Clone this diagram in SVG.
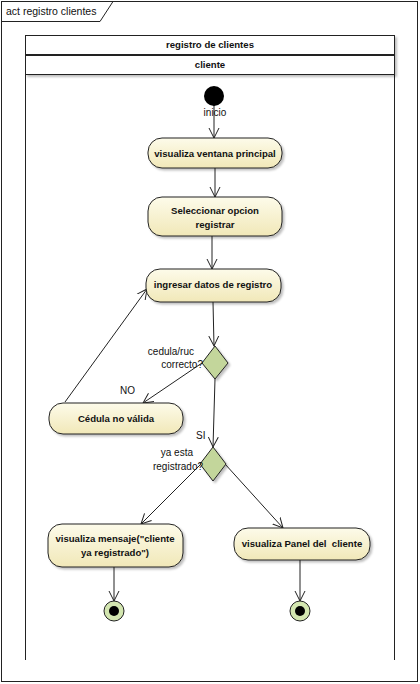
<svg xmlns="http://www.w3.org/2000/svg" width="420" height="684" viewBox="0 0 420 684">
<defs>
<linearGradient id="g" x1="0" y1="0" x2="0" y2="1"><stop offset="0" stop-color="#FDFBEA"/><stop offset="1" stop-color="#F1E8B8"/></linearGradient>
<marker id="a" markerWidth="12" markerHeight="12" refX="10" refY="6" orient="auto" markerUnits="userSpaceOnUse"><path d="M0,1 L10,6 L0,11" fill="none" stroke="#222" stroke-width="1"/></marker>
<filter id="s" x="-10%" y="-10%" width="130%" height="140%"><feDropShadow dx="2" dy="2" stdDeviation="1" flood-color="#000" flood-opacity="0.25"/></filter>
</defs>
<style>
text{font-family:"Liberation Sans",Arial,sans-serif;fill:#111}
.t{font-size:9.6px;font-weight:bold;text-anchor:middle}
.l{font-size:10px}
.n{fill:url(#g);stroke:#222;stroke-width:1;filter:url(#s)}
.d{fill:#C3D69B;stroke:#222;stroke-width:1;filter:url(#s)}
.e{fill:none;stroke:#222;stroke-width:1;marker-end:url(#a)}
</style>
<rect width="420" height="684" fill="#fff"/>
<rect x="1.5" y="1.5" width="416" height="680" fill="none" stroke="#222" stroke-width="1"/>
<path d="M1.5,21.5 H100 L113,1.5" fill="none" stroke="#222" stroke-width="1"/>
<text x="6" y="15" style="font-size:10.5px">act registro clientes</text>
<g id="lane">
<path d="M25.5,35 V660 M394.5,35 V660" stroke="#222" stroke-width="1"/>
<rect x="25.5" y="35.5" width="369" height="19" fill="#fff" stroke="#222" filter="url(#s)"/>
<rect x="25.5" y="55.5" width="369" height="19" fill="#fff" stroke="#222" filter="url(#s)"/>
<text class="t" x="210" y="48">registro de clientes</text>
<text class="t" x="210" y="68">cliente</text>
</g>
<g id="connectors">
<path class="e" d="M214,105 V138"/>
<path class="e" d="M215,168 V197"/>
<path class="e" d="M212,236 V269"/>
<path class="e" d="M213,302 L214,346"/>
<path class="e" d="M202,363 L143,403"/>
<path class="e" d="M65,402 L147,289"/>
<path class="e" d="M215,379 L213,447"/>
<path class="e" d="M201,464 L141,524"/>
<path class="e" d="M225,464 L283,528"/>
<path class="e" d="M114,567 V601"/>
<path class="e" d="M300,560 V601"/>
<text class="l" x="120" y="394">NO</text>
<text class="l" x="196" y="439">SI</text>
</g>
<g id="inicio">
<circle cx="214" cy="96" r="10" fill="#000"/>
<text class="l" x="215" y="116" text-anchor="middle">inicio</text>
</g>
<g id="n1"><rect class="n" x="148" y="138" width="134" height="30" rx="14"/><text class="t" x="215" y="157">visualiza ventana principal</text></g>
<g id="n2"><rect class="n" x="148" y="197" width="134" height="39" rx="14"/><text class="t" x="215" y="214">Seleccionar opcion</text><text class="t" x="215" y="228">registrar</text></g>
<g id="n3"><rect class="n" x="146" y="269" width="135" height="33" rx="14"/><text class="t" x="213" y="288">ingresar datos de registro</text></g>
<g id="d1"><path class="d" d="M215,346 L228,363 L215,379 L202,363 Z"/><text class="l" x="194" y="355" text-anchor="end">cedula/ruc</text><text class="l" x="203" y="368" text-anchor="end">correcto?</text></g>
<g id="n4"><rect class="n" x="49" y="403" width="134" height="31" rx="14"/><text class="t" x="116" y="422">Cédula no válida</text></g>
<g id="d2"><path class="d" d="M213,447 L226,464 L213,481 L200,464 Z"/><text class="l" x="193" y="456" text-anchor="end">ya esta</text><text class="l" x="203" y="470" text-anchor="end">registrado?</text></g>
<g id="n5"><rect class="n" x="48" y="524" width="135" height="43" rx="14"/><text class="t" x="115" y="542">visualiza mensaje("cliente</text><text class="t" x="115" y="556">ya registrado")</text></g>
<g id="n6"><rect class="n" x="234" y="528" width="136" height="32" rx="14"/><text class="t" x="302" y="547" style="white-space:pre">visualiza Panel del  cliente</text></g>
<g id="f1"><circle cx="114" cy="611" r="10" fill="#D3E6B0" stroke="#222"/><circle cx="114" cy="611" r="5" fill="#000"/></g>
<g id="f2"><circle cx="300" cy="611" r="10" fill="#D3E6B0" stroke="#222"/><circle cx="300" cy="611" r="5" fill="#000"/></g>
</svg>
